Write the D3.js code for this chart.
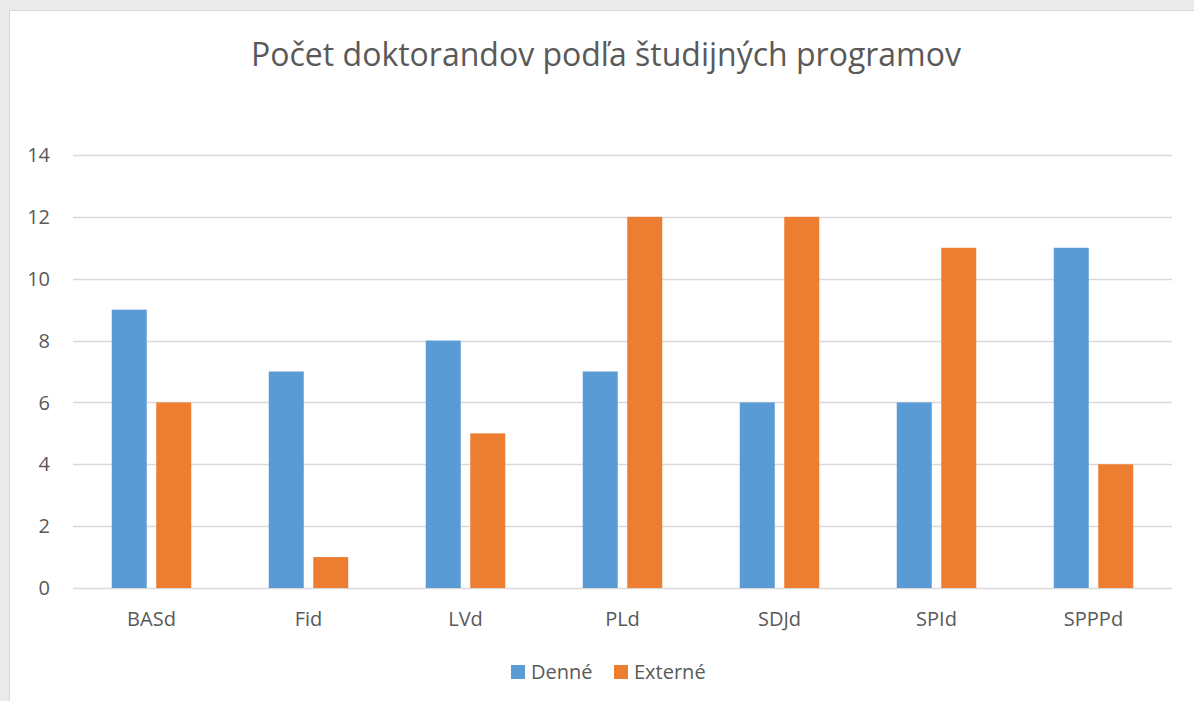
<!DOCTYPE html>
<html>
<head>
<meta charset="utf-8">
<script src="https://cdn.jsdelivr.net/npm/d3@7"></script>
<style>
  body { margin: 0; background: #ebebeb; }
  svg { display: block; }
  text { font-family: "Open Sans", "Liberation Sans", sans-serif; fill: #595959; }
</style>
</head>
<body>
<div id="chart"></div>
<script>
var categories = ["BASd", "Fid", "LVd", "PLd", "SDJd", "SPId", "SPPPd"];
var denne = [9, 7, 8, 7, 6, 6, 11];
var externe = [6, 1, 5, 12, 12, 11, 4];
var seriesNames = ["Denné", "Externé"];
var seriesColors = ["#5b9bd5", "#ed7d31"];
var yTicks = [0, 2, 4, 6, 8, 10, 12, 14];

var svgWidth = 1194;
var svgHeight = 701;

var margin = { top: 155, right: 22, bottom: 113, left: 73 };
var width = svgWidth - margin.left - margin.right;
var height = svgHeight - margin.top - margin.bottom;

var svg = d3.select("#chart")
  .append("svg")
  .attr("width", svgWidth)
  .attr("height", svgHeight);

// white chart area with light border
svg.append("rect")
  .attr("x", 9.5)
  .attr("y", 10.5)
  .attr("width", svgWidth)
  .attr("height", svgHeight)
  .attr("fill", "#ffffff")
  .attr("stroke", "#d9d9d9")
  .attr("stroke-width", 1);

svg.append("text")
  .attr("x", 606)
  .attr("y", 66)
  .attr("text-anchor", "middle")
  .style("font-size", "32px")
  .text("Počet doktorandov podľa študijných programov");

var chartGroup = svg.append("g")
  .attr("transform", `translate(${margin.left}, ${margin.top})`);

var xScale = d3.scaleBand()
  .domain(categories)
  .range([0, width])
  .paddingInner(0)
  .paddingOuter(0);

var yScale = d3.scaleLinear()
  .domain([0, 14])
  .range([height, 0]);

// gridlines
chartGroup.selectAll(".grid")
  .data(yTicks)
  .enter()
  .append("line")
  .attr("x1", 0)
  .attr("x2", width)
  .attr("y1", d => Math.round(yScale(d)) + 0.5)
  .attr("y2", d => Math.round(yScale(d)) + 0.5)
  .attr("stroke", "#d9d9d9")
  .attr("stroke-width", 1.5);

// y labels
chartGroup.selectAll(".ylab")
  .data(yTicks)
  .enter()
  .append("text")
  .attr("x", -23)
  .attr("y", d => yScale(d))
  .attr("dy", "0.36em")
  .attr("text-anchor", "end")
  .style("font-size", "20px")
  .text(d => d);

// bars
var barW = 35;
var barGap = 9.5;
var subScale = d3.scaleBand()
  .domain([0, 1])
  .range([0, barW * 2 + barGap])
  .paddingInner(barGap / (barW + barGap))
  .paddingOuter(0);

var seriesData = [denne, externe];
var groups = chartGroup.selectAll(".cat")
  .data(categories)
  .enter()
  .append("g")
  .attr("transform", d => `translate(${xScale(d) + (xScale.bandwidth() - (barW * 2 + barGap)) / 2}, 0)`);

groups.selectAll("rect")
  .data((d, i) => seriesData.map((s, j) => ({ s: j, v: s[i] })))
  .enter()
  .append("rect")
  .attr("x", d => subScale(d.s))
  .attr("width", subScale.bandwidth())
  .attr("y", d => yScale(d.v))
  .attr("height", d => yScale(0) - yScale(d.v))
  .attr("fill", d => seriesColors[d.s]);

// x labels
chartGroup.selectAll(".xlab")
  .data(categories)
  .enter()
  .append("text")
  .attr("x", d => xScale(d) + xScale.bandwidth() / 2)
  .attr("y", height + 38)
  .attr("text-anchor", "middle")
  .style("font-size", "20px")
  .text(d => d);

// legend
var legend = svg.append("g").attr("transform", "translate(511, 665)");
var legendX = [0, 103];
seriesNames.forEach(function(name, i) {
  legend.append("rect")
    .attr("x", legendX[i])
    .attr("y", 0)
    .attr("width", 14)
    .attr("height", 14)
    .attr("fill", seriesColors[i]);
  legend.append("text")
    .attr("x", legendX[i] + 20)
    .attr("y", 14)
    .style("font-size", "20px")
    .text(name);
});
</script>
</body>
</html>
